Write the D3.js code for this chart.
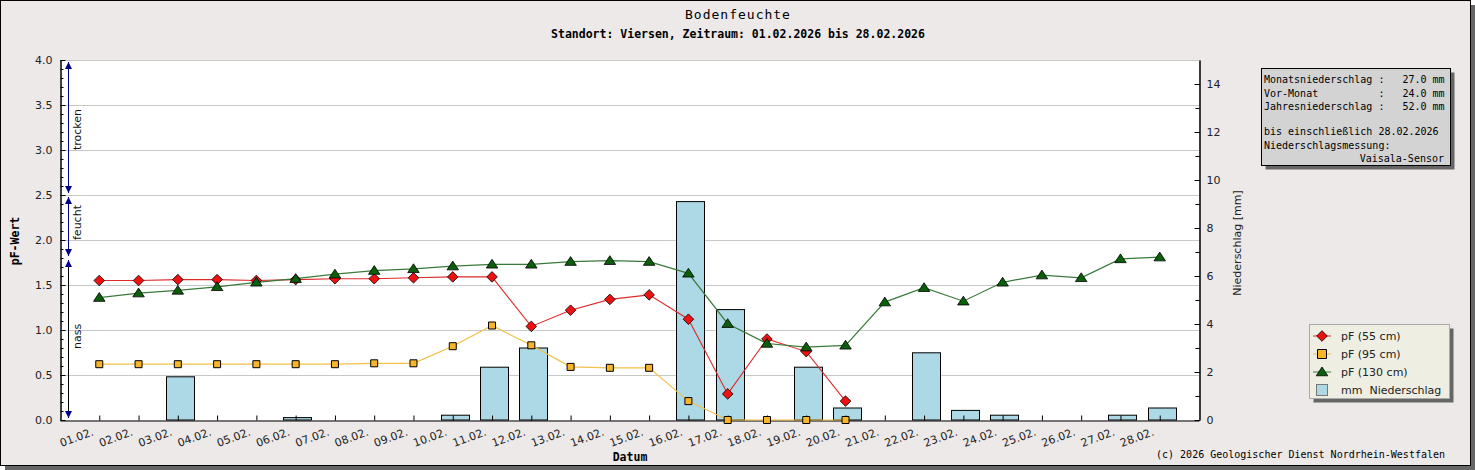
<!DOCTYPE html>
<html>
<head>
<meta charset="utf-8">
<script src="https://cdn.jsdelivr.net/npm/d3@7"></script>
<style>
  html, body { margin: 0; padding: 0; background: #ffffff; }
  svg { display: block; }
  .pre { white-space: pre; }
</style>
</head>
<body>
<svg id="chart" width="1475" height="470"></svg>
<script>
// ---------- data ----------
const dayLabels = ["01.02.","02.02.","03.02.","04.02.","05.02.","06.02.","07.02.","08.02.","09.02.","10.02.",
  "11.02.","12.02.","13.02.","14.02.","15.02.","16.02.","17.02.","18.02.","19.02.","20.02.",
  "21.02.","22.02.","23.02.","24.02.","25.02.","26.02.","27.02.","28.02."];
const pf55 = [1.55,1.55,1.56,1.56,1.55,1.56,1.57,1.57,1.58,1.59,1.59,1.04,1.22,1.34,1.39,1.12,0.29,0.90,0.76,0.21,
  null,null,null,null,null,null,null,null];
const pf95 = [0.62,0.62,0.62,0.62,0.62,0.62,0.62,0.63,0.63,0.82,1.05,0.83,0.59,0.58,0.58,0.21,0,0,0,0,
  null,null,null,null,null,null,null,null];
const pf130 = [1.36,1.41,1.44,1.48,1.53,1.57,1.62,1.66,1.68,1.71,1.73,1.73,1.76,1.77,1.76,1.63,1.07,0.85,0.81,0.83,
  1.31,1.47,1.32,1.53,1.61,1.58,1.79,1.81];
const precip = [0,0,1.8,0,0,0.1,0,0,0,0.2,2.2,3.0,0,0,0,9.1,4.6,0,2.2,0.5,0,2.8,0.4,0.2,0,0,0.2,0.5];
const leftTicks = [0,0.5,1.0,1.5,2.0,2.5,3.0,3.5,4.0];
const rightTicks = [0,2,4,6,8,10,12,14];
const zones = [
  {name:"trocken", from:2.5, to:4.0, labelAt:3.0},
  {name:"feucht",  from:1.8, to:2.5, labelAt:2.0},
  {name:"nass",    from:0.0, to:1.8, labelAt:0.79}
];
const infoLines = [
  "Monatsniederschlag :   27.0 mm",
  "Vor-Monat          :   24.0 mm",
  "Jahresniederschlag :   52.0 mm",
  "",
  "bis einschließlich 28.02.2026",
  "Niederschlagsmessung:"
];
const infoRight = "Vaisala-Sensor";
const legendItems = [
  {label:"pF (55 cm)", key:"pf55"},
  {label:"pF (95 cm)", key:"pf95"},
  {label:"pF (130 cm)", key:"pf130"},
  {label:"mm  Niederschlag", key:"bar"}
];

// ---------- styles ----------
const C = {
  bg:"#ece9e8", red:"#ee1111", redLine:"#dd2a2a", yel:"#f7b52a", yelLine:"#f2c14a",
  grn:"#0b5e0b", grnLine:"#3a7a3a", bar:"#add8e6", grid:"#c8c8c8", navy:"#00008b"
};
const SANS = "DejaVu Sans, Verdana, sans-serif";
const MONO = "DejaVu Sans Mono, monospace";

const svg = d3.select("#chart");
const L = 60, R = 1199, T = 60, B = 420;

const x = d3.scaleLinear().domain([0, 29]).range([L, R]);
const yL = d3.scaleLinear().domain([0, 4]).range([B, T]);
const yR = d3.scaleLinear().domain([0, 15]).range([B, T]);
const step = x(1) - x(0);

// frame + shadow
svg.append("rect").attr("x",5).attr("y",466).attr("width",1470).attr("height",4).attr("fill","#666");
svg.append("rect").attr("x",1471).attr("y",5).attr("width",4).attr("height",465).attr("fill","#666");
svg.append("rect").attr("x",0.5).attr("y",0.5).attr("width",1470).attr("height",465)
  .attr("fill",C.bg).attr("stroke","#000");

// titles
svg.append("text").attr("x",738).attr("y",19).attr("text-anchor","middle")
  .attr("font-family",MONO).attr("font-size",13).attr("letter-spacing",1).attr("fill","#000")
  .text("Bodenfeuchte");
svg.append("text").attr("x",738).attr("y",38).attr("text-anchor","middle")
  .attr("font-family",MONO).attr("font-size",11.5).attr("font-weight","bold").attr("fill","#000")
  .text("Standort: Viersen, Zeitraum: 01.02.2026 bis 28.02.2026");

// plot background
svg.append("rect").attr("x",L).attr("y",T).attr("width",R-L).attr("height",B-T).attr("fill","#fff");

// gridlines
svg.append("g").selectAll("line").data(leftTicks.filter(d=>d>0)).join("line")
  .attr("x1",L).attr("x2",R).attr("y1",d=>Math.round(yL(d))+0.5).attr("y2",d=>Math.round(yL(d))+0.5)
  .attr("stroke",C.grid).attr("stroke-width",1);

// bars
const barData = precip.map((v,i)=>({d:i+1, v})).filter(o=>o.v>0);
svg.append("g").selectAll("rect").data(barData).join("rect")
  .attr("x",o=>Math.round(x(o.d) - 0.31*step)+0.5)
  .attr("width",Math.round(0.71*step))
  .attr("y",o=>yR(o.v))
  .attr("height",o=>B - yR(o.v))
  .attr("fill",C.bar).attr("stroke","#000").attr("stroke-width",1);

// axes
function styleAxis(g){
  g.selectAll("path").attr("stroke","#000").attr("stroke-width",1);
  g.selectAll("line").attr("stroke","#000");
  g.selectAll("text").attr("font-family",SANS).attr("font-size",11).attr("fill","#222");
}
const minorL = d3.range(0, 4.0001, 0.1).map(v=>+v.toFixed(1));
svg.append("g").attr("transform",`translate(${L+0.5},0)`)
  .call(d3.axisLeft(yL).tickValues(minorL).tickSize(-3).tickSizeOuter(0).tickFormat(""))
  .call(styleAxis);
svg.append("g").attr("transform",`translate(${L+0.5},0)`)
  .call(d3.axisLeft(yL).tickValues(leftTicks).tickSize(-5).tickSizeOuter(0).tickPadding(8).tickFormat(d3.format(".1f")))
  .call(styleAxis);

svg.append("g").attr("transform",`translate(${R+0.5},0)`)
  .call(d3.axisRight(yR).tickValues(d3.range(0,15)).tickSize(-4).tickSizeOuter(0).tickFormat(""))
  .call(styleAxis);
svg.append("g").attr("transform",`translate(${R+0.5},0)`)
  .call(d3.axisRight(yR).tickValues(rightTicks).tickSize(-5).tickSizeOuter(0).tickPadding(7))
  .call(styleAxis);

svg.append("g").attr("transform",`translate(0,${B+0.5})`)
  .call(d3.axisBottom(x).tickValues(d3.range(1,29)).tickSize(-5).tickSizeOuter(0).tickFormat(""))
  .call(styleAxis);

// x labels
svg.append("g").selectAll("text").data(dayLabels).join("text")
  .attr("transform",(d,i)=>`translate(${x(i+1)-5},435) rotate(-20)`)
  .attr("text-anchor","end").attr("font-family",SANS).attr("font-size",11).attr("fill","#222")
  .text(d=>d);

// axis titles
svg.append("text").attr("transform","translate(19,241) rotate(-90)").attr("text-anchor","middle")
  .attr("font-family",MONO).attr("font-size",11.5).attr("font-weight","bold").text("pF-Wert");
svg.append("text").attr("transform","translate(1241,243) rotate(-90)").attr("text-anchor","middle")
  .attr("font-family",SANS).attr("font-size",11).attr("fill","#222").text("Niederschlag [mm]");
svg.append("text").attr("x",630).attr("y",461).attr("text-anchor","middle")
  .attr("font-family",MONO).attr("font-size",11.5).attr("font-weight","bold").text("Datum");

// copyright
svg.append("text").attr("x",1445).attr("y",458).attr("text-anchor","end")
  .attr("font-family",MONO).attr("font-size",10).attr("fill","#000")
  .text("(c) 2026 Geologischer Dienst Nordrhein-Westfalen");

// zone annotations
const zx = 68.5;
const zg = svg.append("g");
zones.forEach((z,i)=>{
  const yTop = yL(z.to) + 2, yBot = yL(z.from) - 2;
  zg.append("line").attr("x1",zx).attr("x2",zx).attr("y1",yTop).attr("y2",yBot)
    .attr("stroke", z.name==="nass" ? "#000" : C.navy).attr("stroke-width",1);
  // up arrow at top
  zg.append("path").attr("d",`M${zx},${yTop} L${zx-3.5},${yTop+7} L${zx+3.5},${yTop+7} Z`).attr("fill",C.navy);
  // down arrow at bottom
  zg.append("path").attr("d",`M${zx},${yBot} L${zx-3.5},${yBot-7} L${zx+3.5},${yBot-7} Z`).attr("fill",C.navy);
  zg.append("text").attr("transform",`translate(80.5,${yL(z.labelAt)}) rotate(-90)`)
    .attr("text-anchor","start").attr("font-family",SANS).attr("font-size",11).attr("fill","#111")
    .text(z.name);
});

// series
function seriesPts(arr){ return arr.map((v,i)=>({d:i+1,v})).filter(o=>o.v!==null); }
const line = d3.line().x(o=>x(o.d)).y(o=>yL(o.v));

const s55 = seriesPts(pf55), s95 = seriesPts(pf95), s130 = seriesPts(pf130);

svg.append("path").datum(s95).attr("d",line).attr("fill","none").attr("stroke",C.yelLine).attr("stroke-width",1.2);
svg.append("path").datum(s55).attr("d",line).attr("fill","none").attr("stroke",C.redLine).attr("stroke-width",1.1);
svg.append("path").datum(s130).attr("d",line).attr("fill","none").attr("stroke",C.grnLine).attr("stroke-width",1.2);

function diamond(cx,cy,r){ return `M${cx},${cy-r} L${cx+r},${cy} L${cx},${cy+r} L${cx-r},${cy} Z`; }
function square(cx,cy,r){ return `M${cx-r},${cy-r} h${2*r} v${2*r} h${-2*r} Z`; }
function tri(cx,cy,r){ return `M${cx},${cy-r} L${cx+r*1.15},${cy+r*0.75} L${cx-r*1.15},${cy+r*0.75} Z`; }

svg.append("g").selectAll("path").data(s95).join("path")
  .attr("d",o=>square(x(o.d),yL(o.v),3.5)).attr("fill",C.yel).attr("stroke","#000").attr("stroke-width",1);
svg.append("g").selectAll("path").data(s55).join("path")
  .attr("d",o=>diamond(x(o.d),yL(o.v),5.3)).attr("fill",C.red).attr("stroke","#000").attr("stroke-width",0.8);
svg.append("g").selectAll("path").data(s130).join("path")
  .attr("d",o=>tri(x(o.d),yL(o.v),5)).attr("fill",C.grn).attr("stroke","#000").attr("stroke-width",0.8);

// info box
const ib = {x:1261.5, y:68.5, w:189, h:97};
svg.append("rect").attr("x",ib.x+4).attr("y",ib.y+4).attr("width",ib.w).attr("height",ib.h).attr("fill","#666");
svg.append("rect").attr("x",ib.x).attr("y",ib.y).attr("width",ib.w).attr("height",ib.h).attr("fill","#d3d3d3").attr("stroke","#000");
const infoY = [83, 96.5, 110, 123, 135, 148.5];
infoLines.forEach((t,i)=>{
  svg.append("text").attr("class","pre").attr("x",1264).attr("y",infoY[i])
    .attr("font-family",MONO).attr("font-size",10).attr("fill","#000").text(t);
});
svg.append("text").attr("x",1444).attr("y",162).attr("text-anchor","end")
  .attr("font-family",MONO).attr("font-size",10).attr("fill","#000").text(infoRight);

// legend
const lg = {x:1309.5, y:324.5, w:140, h:74};
svg.append("rect").attr("x",lg.x+4).attr("y",lg.y+4).attr("width",lg.w).attr("height",lg.h).attr("fill","#666");
svg.append("rect").attr("x",lg.x).attr("y",lg.y).attr("width",lg.w).attr("height",lg.h).attr("fill","#eeeee2").attr("stroke","#aaa");
legendItems.forEach((it,i)=>{
  const cy = 336 + i*18, cx = 1322;
  const g = svg.append("g");
  if (it.key==="pf55"){
    g.append("line").attr("x1",cx-9).attr("x2",cx+9).attr("y1",cy).attr("y2",cy).attr("stroke",C.redLine);
    g.append("path").attr("d",diamond(cx,cy,5.3)).attr("fill",C.red).attr("stroke","#000").attr("stroke-width",0.8);
  } else if (it.key==="pf95"){
    g.append("line").attr("x1",cx-9).attr("x2",cx+9).attr("y1",cy).attr("y2",cy).attr("stroke",C.yelLine);
    g.append("path").attr("d",square(cx,cy,4.5)).attr("fill",C.yel).attr("stroke","#000").attr("stroke-width",1);
  } else if (it.key==="pf130"){
    g.append("line").attr("x1",cx-9).attr("x2",cx+9).attr("y1",cy).attr("y2",cy).attr("stroke",C.grnLine);
    g.append("path").attr("d",tri(cx,cy,5)).attr("fill",C.grn).attr("stroke","#000").attr("stroke-width",0.8);
  } else {
    g.append("rect").attr("x",cx-5.5).attr("y",cy-5.5).attr("width",11).attr("height",11)
      .attr("fill",C.bar).attr("stroke","#777");
  }
  svg.append("text").attr("class","pre").attr("x",1341).attr("y",cy+4)
    .attr("font-family",SANS).attr("font-size",11).attr("fill","#222").text(it.label);
});
</script>
</body>
</html>
